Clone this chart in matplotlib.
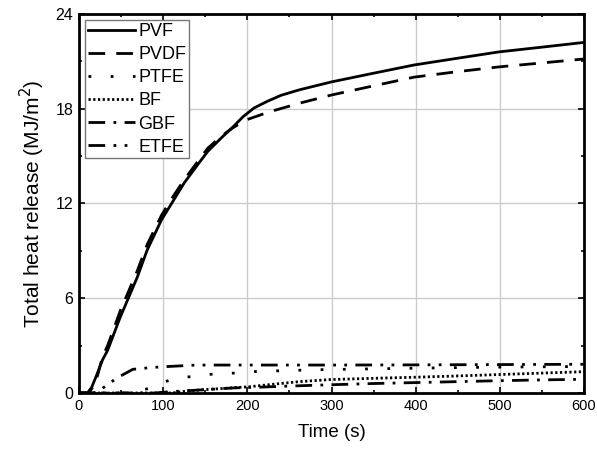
import matplotlib
matplotlib.use("Agg")
import matplotlib.pyplot as plt
from matplotlib.ticker import MultipleLocator

plt.rcParams['font.family'] = ['Liberation Sans', 'DejaVu Sans']

# Data (time in s, total heat release in MJ/m^2)
t_pvf = [0, 10, 15, 20, 28, 34, 49, 69, 81, 98, 110, 125, 143, 153, 170, 183, 195, 208, 223, 240, 262, 300, 350, 398, 450, 499, 550, 600]
v_pvf = [0, 0, 0.35, 1.0, 2.1, 2.7, 4.8, 7.3, 9.05, 10.96, 12.0, 13.3, 14.6, 15.3, 16.2, 16.85, 17.5, 18.05, 18.45, 18.85, 19.2, 19.7, 20.25, 20.77, 21.2, 21.6, 21.9, 22.2]

t_pvdf = [0, 12, 16, 22, 28, 34, 49, 69, 81, 98, 110, 125, 143, 153, 170, 183, 199, 226, 262, 300, 350, 398, 450, 499, 550, 600]
v_pvdf = [0, 0, 0.35, 1.1, 2.3, 3.0, 5.2, 7.7, 9.4, 11.25, 12.3, 13.5, 14.8, 15.5, 16.3, 16.8, 17.3, 17.8, 18.35, 18.87, 19.45, 20.0, 20.35, 20.65, 20.9, 21.15]

t_ptfe = [0, 60, 84, 102, 120, 140, 155, 187, 203, 266, 290, 350, 400, 450, 500, 550, 600]
v_ptfe = [0, 0, 0.3, 0.72, 0.97, 1.07, 1.18, 1.27, 1.35, 1.45, 1.48, 1.53, 1.57, 1.61, 1.64, 1.66, 1.68]

t_bf = [0, 110, 132, 160, 203, 230, 262, 298, 350, 400, 444, 500, 550, 600]
v_bf = [0, 0, 0.15, 0.25, 0.4, 0.55, 0.72, 0.85, 0.93, 1.0, 1.07, 1.17, 1.26, 1.35]

t_gbf = [0, 90, 108, 140, 183, 220, 250, 298, 350, 400, 450, 500, 550, 600]
v_gbf = [0, 0, 0.08, 0.18, 0.32, 0.38, 0.44, 0.52, 0.6, 0.66, 0.72, 0.78, 0.83, 0.87]

t_etfe = [0, 18, 28, 45, 64, 84, 96, 132, 140, 200, 300, 400, 500, 600]
v_etfe = [0, 0, 0.3, 0.95, 1.5, 1.6, 1.65, 1.75, 1.77, 1.77, 1.77, 1.78, 1.8, 1.82]

labels = ['PVF', 'PVDF', 'PTFE', 'BF', 'GBF', 'ETFE']

fig = plt.figure(figsize=(5.97, 4.51), dpi=100)
ax = fig.add_axes([0.1323, 0.1286, 0.8460, 0.8404])

lw = 2.0
ax.plot(t_pvf, v_pvf, color='black', lw=lw, ls='-', label=labels[0])
ax.plot(t_pvdf, v_pvdf, color='black', lw=lw, ls=(0, (6, 4)), label=labels[1])
ax.plot(t_ptfe, v_ptfe, color='black', lw=lw, ls=(0, (1, 7)), label=labels[2])
ax.plot(t_bf, v_bf, color='black', lw=lw, ls=(0, (0.8, 0.9)), label=labels[3])
ax.plot(t_gbf, v_gbf, color='black', lw=lw, ls=(0, (6, 3, 1, 3)), label=labels[4])
ax.plot(t_etfe, v_etfe, color='black', lw=lw, ls=(0, (6, 3, 1, 3, 1, 3)), label=labels[5])

ax.set_xlim(0, 600)
ax.set_ylim(0, 24)
ax.xaxis.set_major_locator(MultipleLocator(100))
ax.xaxis.set_minor_locator(MultipleLocator(50))
ax.yaxis.set_major_locator(MultipleLocator(6))
ax.yaxis.set_minor_locator(MultipleLocator(3))
ax.tick_params(which='both', direction='in', top=True, right=True, width=1.2, color='black')
ax.tick_params(axis='x', labelsize=10.5)
ax.tick_params(axis='y', labelsize=11.5)
ax.tick_params(which='major', length=4, pad=4)
ax.tick_params(which='minor', length=2.5)
ax.grid(True, which='major', color='#cccccc', lw=1.0)
ax.set_axisbelow(True)
for s in ax.spines.values():
    s.set_linewidth(2.0)

ax.set_xlabel('Time (s)', fontsize=13.5, labelpad=8)
ax.set_ylabel('Total heat release (MJ/m$^2$)', fontsize=15, labelpad=6)

leg = ax.legend(loc='upper left', fontsize=13, handlelength=2.6, handletextpad=0.2,
                borderpad=0.15, labelspacing=0.34, borderaxespad=0.35, fancybox=False,
                framealpha=1, edgecolor='#777777')
leg.get_frame().set_linewidth(1.0)

fig.savefig('out.png', dpi=100)
